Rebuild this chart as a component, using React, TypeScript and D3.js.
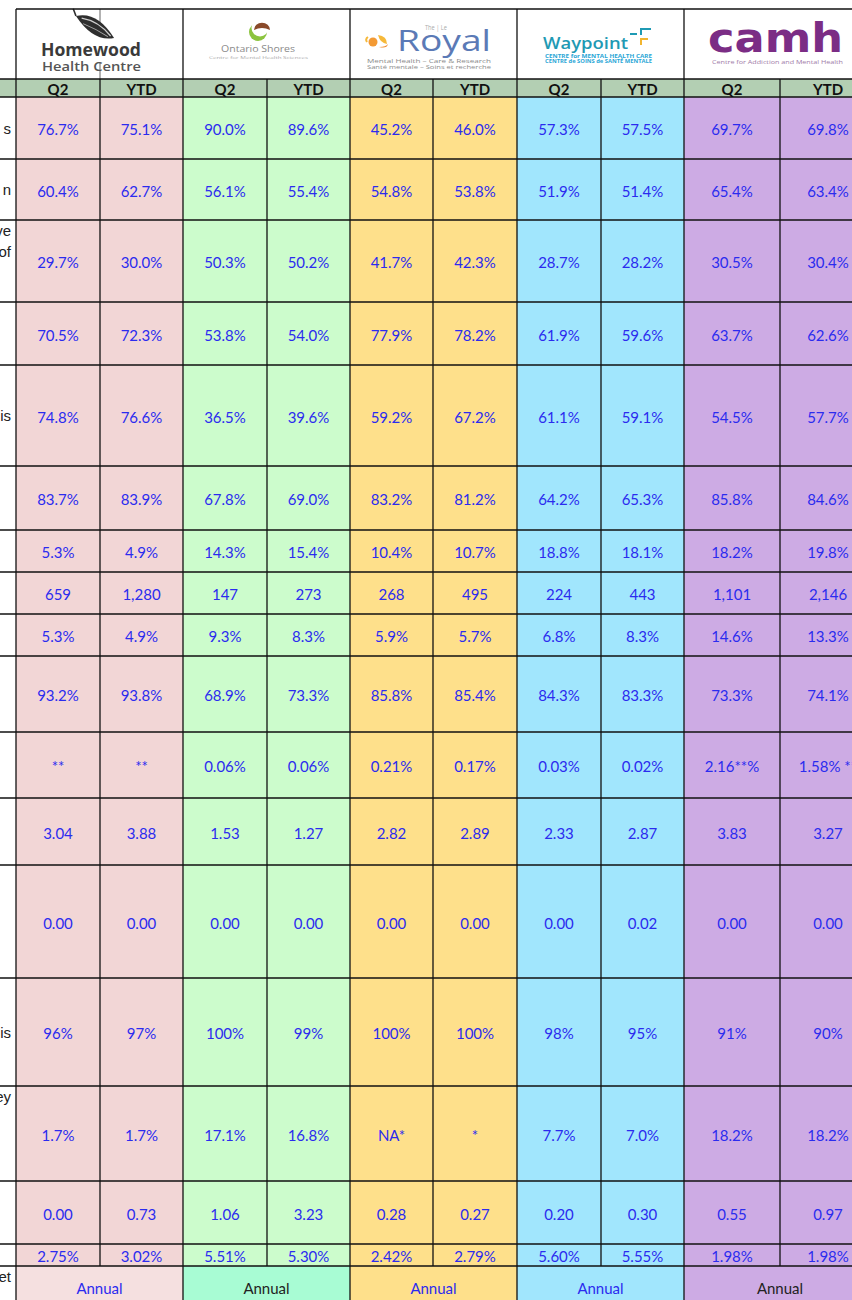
import React from "react";
import * as d3 from "d3";

// hospitals and sub columns
const hospitals = ["Homewood", "Ontario Shores", "The Royal", "Waypoint", "CAMH"];
const periods = ["Q2", "YTD"];

// values per column, one entry per indicator row (17 rows)
const homewoodQ2 = ["76.7%", "60.4%", "29.7%", "70.5%", "74.8%", "83.7%", "5.3%", "659", "5.3%", "93.2%", "**", "3.04", "0.00", "96%", "1.7%", "0.00", "2.75%"];
const homewoodYTD = ["75.1%", "62.7%", "30.0%", "72.3%", "76.6%", "83.9%", "4.9%", "1,280", "4.9%", "93.8%", "**", "3.88", "0.00", "97%", "1.7%", "0.73", "3.02%"];
const ontarioQ2 = ["90.0%", "56.1%", "50.3%", "53.8%", "36.5%", "67.8%", "14.3%", "147", "9.3%", "68.9%", "0.06%", "1.53", "0.00", "100%", "17.1%", "1.06", "5.51%"];
const ontarioYTD = ["89.6%", "55.4%", "50.2%", "54.0%", "39.6%", "69.0%", "15.4%", "273", "8.3%", "73.3%", "0.06%", "1.27", "0.00", "99%", "16.8%", "3.23", "5.30%"];
const royalQ2 = ["45.2%", "54.8%", "41.7%", "77.9%", "59.2%", "83.2%", "10.4%", "268", "5.9%", "85.8%", "0.21%", "2.82", "0.00", "100%", "NA*", "0.28", "2.42%"];
const royalYTD = ["46.0%", "53.8%", "42.3%", "78.2%", "67.2%", "81.2%", "10.7%", "495", "5.7%", "85.4%", "0.17%", "2.89", "0.00", "100%", "*", "0.27", "2.79%"];
const waypointQ2 = ["57.3%", "51.9%", "28.7%", "61.9%", "61.1%", "64.2%", "18.8%", "224", "6.8%", "84.3%", "0.03%", "2.33", "0.00", "98%", "7.7%", "0.20", "5.60%"];
const waypointYTD = ["57.5%", "51.4%", "28.2%", "59.6%", "59.1%", "65.3%", "18.1%", "443", "8.3%", "83.3%", "0.02%", "2.87", "0.02", "95%", "7.0%", "0.30", "5.55%"];
const camhQ2 = ["69.7%", "65.4%", "30.5%", "63.7%", "54.5%", "85.8%", "18.2%", "1,101", "14.6%", "73.3%", "2.16**%", "3.83", "0.00", "91%", "18.2%", "0.55", "1.98%"];
const camhYTD = ["69.8%", "63.4%", "30.4%", "62.6%", "57.7%", "84.6%", "19.8%", "2,146", "13.3%", "74.1%", "1.58% **", "3.27", "0.00", "90%", "18.2%", "0.97", "1.98%"];

const annualLabel = "Annual";

// visible right ends of the (cut off) indicator labels
const rowLabelTails = [["s"], ["n"], ["ve", "of"], [""], ["is"], [""], [""], [""], [""], [""], [""], [""], [""], ["is"], ["ey"], [""], [""]];
const annualLabelTail = ["et"];
const topAlignedRows = [2, 14];

// layout
const W = 852;
const H = 1300;
const left = 16;
const colWidths = [84, 83, 84, 83, 83, 84, 84, 83, 96, 96];
const logoTop = 9;
const logoH = 70;
const headH = 18;
const rowHeights = [62, 61, 82, 63, 101, 64, 42, 42, 42, 76, 66, 67, 113, 108, 95, 63, 22];
const annualH = 42;

const groupFill = ["#f2d6d6", "#ccfccc", "#fee08b", "#a1e6fd", "#cdabe4"];
const annualFill = ["#f5e0e0", "#a8fcd4", "#fee08b", "#a1e6fd", "#cdabe4"];
const annualColor = ["#2b2bef", "#222", "#2b2bef", "#2b2bef", "#222"];
const headFill = "#b3cfb3";
const blue = "#2b2bef";
const font = "Lato, 'Open Sans', sans-serif";
const logoFont = "'Open Sans', sans-serif";

const columns = [homewoodQ2, homewoodYTD, ontarioQ2, ontarioYTD, royalQ2, royalYTD, waypointQ2, waypointYTD, camhQ2, camhYTD];

const colEdges = [left, ...Array.from(d3.cumsum(colWidths), (d) => left + d)];
const headTop = logoTop + logoH;
const bodyTop = headTop + headH;
const rowEdges = [bodyTop, ...Array.from(d3.cumsum(rowHeights), (d) => bodyTop + d)];
const annualTop = rowEdges[rowEdges.length - 1];

const x = d3.scaleOrdinal<number, number>().domain(d3.range(colEdges.length)).range(colEdges);
const y = d3.scaleOrdinal<number, number>().domain(d3.range(rowEdges.length)).range(rowEdges);
const line = { stroke: "#111", strokeWidth: 1.3 };

function HomewoodLogo() {
  return (
    <g>
      <g transform="translate(95,27) rotate(30)">
        <path d="M-22,0 Q-6,-15 22,0 Q6,14 -22,0Z" fill="#2e2e2e" />
        <path d="M-16,-1 Q0,-7 18,0" stroke="#cfcfcf" strokeWidth={1.2} fill="none" />
        <path d="M-12,3 Q2,1 16,2" stroke="#aaa" strokeWidth={0.9} fill="none" />
        <path d="M-22,0 L-28,-5" stroke="#2e2e2e" strokeWidth={1.6} />
      </g>
      <text x={41} y={56} textLength={100} lengthAdjust="spacingAndGlyphs" fontFamily={logoFont} fontWeight={700} fontSize={17} fill="#3a3a3a">Homewood</text>
      <text x={42} y={71} textLength={99} lengthAdjust="spacingAndGlyphs" fontFamily={logoFont} fontWeight={600} fontSize={12.5} fill="#555">Health Centre</text>
    </g>
  );
}

function OntarioLogo() {
  return (
    <g>
      <circle cx={258} cy={32} r={9} fill="#8cc43f" />
      <circle cx={260} cy={28} r={8.5} fill="#fff" />
      <path d="M254,30 A6,5.5 0 0 1 270,30 Q262,26 254,30Z" fill="#8a4a2a" />
      <text x={221} y={52} textLength={74} lengthAdjust="spacingAndGlyphs" fontFamily={logoFont} fontSize={9.5} fill="#8a8a8a">Ontario Shores</text>
      <text x={209} y={58.5} textLength={99} lengthAdjust="spacingAndGlyphs" fontFamily={logoFont} fontSize={4.3} fill="#aaa">Centre for Mental Health Sciences</text>
    </g>
  );
}

function RoyalLogo() {
  return (
    <g>
      <text x={425} y={30} textLength={22} lengthAdjust="spacingAndGlyphs" fontFamily={logoFont} fontSize={6.5} fill="#aaa">The | Le</text>
      <circle cx={373} cy={42} r={4.5} fill="#f39a34" />
      <path d="M378,35 q9,1 9,9 q-7,-1 -9,-9Z" fill="#f6b93a" />
      <path d="M379,47 q7,0 9,-3 q-1,5 -9,3Z" fill="#f08a2c" />
      <path d="M368,37 q-3,2 -1,5" stroke="#f6b93a" strokeWidth={2} fill="none" />
      <text x={397} y={51} textLength={94} lengthAdjust="spacingAndGlyphs" fontFamily={logoFont} fontSize={30} fill="#5b7ab6">Royal</text>
      <text x={367} y={63} textLength={124} lengthAdjust="spacingAndGlyphs" fontFamily={logoFont} fontSize={4.8} fill="#8a8a8a">Mental Health – Care &amp; Research</text>
      <text x={367} y={69} textLength={124} lengthAdjust="spacingAndGlyphs" fontFamily={logoFont} fontSize={4.8} fill="#8a8a8a">Santé mentale – Soins et recherche</text>
    </g>
  );
}

function WaypointLogo() {
  return (
    <g>
      <text x={543} y={49} textLength={85} lengthAdjust="spacingAndGlyphs" fontFamily={logoFont} fontWeight={600} fontSize={16} fill="#1f9ab4">Waypoint</text>
      <rect x={630} y={33} width={7} height={2} fill="#1f9ab4" />
      <rect x={640} y={28} width={2} height={7} fill="#1f9ab4" />
      <rect x={642} y={28} width={9} height={2} fill="#1f9ab4" />
      <rect x={640} y={38} width={8} height={2} fill="#f2b52f" />
      <rect x={640} y={38} width={2} height={7} fill="#f2b52f" />
      <text x={545} y={58} textLength={107} lengthAdjust="spacingAndGlyphs" fontFamily={logoFont} fontWeight={700} fontSize={4.5} fill="#29a6d6">CENTRE for MENTAL HEALTH CARE</text>
      <text x={545} y={63} textLength={107} lengthAdjust="spacingAndGlyphs" fontFamily={logoFont} fontWeight={700} fontSize={4.5} fill="#29a6d6">CENTRE de SOINS de SANTÉ MENTALE</text>
    </g>
  );
}

function CamhLogo() {
  return (
    <g>
      <text x={708} y={52} textLength={135} lengthAdjust="spacingAndGlyphs" fontFamily="'DejaVu Sans', sans-serif" fontWeight={700} fontSize={40} fill="#7b2d85">camh</text>
      <text x={712} y={64} textLength={131} lengthAdjust="spacingAndGlyphs" fontFamily={logoFont} fontSize={5} fill="#a07aa8">Centre for Addiction and Mental Health</text>
    </g>
  );
}

export default function App() {
  const groupX0 = (g: number) => x(g * 2);
  const groupX1 = (g: number) => x(g * 2 + 2);
  const rowsAll = d3.range(rowHeights.length);

  return (
    <div style={{ position: "absolute", left: 0, top: 0, width: W, height: H, overflow: "hidden", background: "#fff" }}>
      <svg width={W} height={H} style={{ display: "block" }}>
        {/* group backgrounds */}
        {hospitals.map((h, g) => (
          <g key={h}>
            <rect x={groupX0(g)} y={bodyTop} width={groupX1(g) - groupX0(g)} height={annualTop - bodyTop} fill={groupFill[g]} />
            <rect x={groupX0(g)} y={annualTop} width={groupX1(g) - groupX0(g)} height={annualH} fill={annualFill[g]} />
          </g>
        ))}
        <rect x={0} y={headTop} width={W} height={headH} fill={headFill} />

        {/* logos */}
        <line x1={x(1)} x2={x(1)} y1={logoTop} y2={logoTop + 14} stroke="#666" strokeWidth={1} />
        <line x1={x(1)} x2={x(1)} y1={logoTop + 53} y2={headTop} stroke="#666" strokeWidth={1} />
        <HomewoodLogo />
        <OntarioLogo />
        <RoyalLogo />
        <WaypointLogo />
        <CamhLogo />

        {/* header text */}
        {columns.map((_, c) => (
          <text key={c} x={(x(c) + x(c + 1)) / 2} y={headTop + headH / 2 + 1} textAnchor="middle" dominantBaseline="central" fontFamily={font} fontWeight={700} fontSize={15} fill="#111">
            {periods[c % 2]}
          </text>
        ))}

        {/* cell values */}
        {columns.map((col, c) =>
          col.map((v, r) => (
            <text key={`${c}-${r}`} x={(x(c) + x(c + 1)) / 2} y={(y(r) + y(r + 1)) / 2 + 1} textAnchor="middle" dominantBaseline="central" fontFamily={font} fontSize={15} fill={blue}>
              {v}
            </text>
          ))
        )}

        {/* annual row */}
        {hospitals.map((h, g) => (
          <text key={h} x={(groupX0(g) + groupX1(g)) / 2} y={annualTop + annualH / 2 + 1} textAnchor="middle" dominantBaseline="central" fontFamily={font} fontSize={15} fill={annualColor[g]}>
            {annualLabel}
          </text>
        ))}

        {/* cut-off row label tails */}
        {rowLabelTails.map((lines, r) => {
          const top = topAlignedRows.includes(r);
          const y0 = top ? y(r) + 10 : (y(r) + y(r + 1)) / 2 - ((lines.length - 1) * 21) / 2;
          return lines.map((t, i) => (
            <text key={`${r}-${i}`} x={11} y={y0 + i * 21} textAnchor="end" dominantBaseline="central" fontFamily="'Liberation Sans', Arial, sans-serif" fontSize={15} fill="#222">
              {t}
            </text>
          ));
        })}
        {annualLabelTail.map((t, i) => (
          <text key={t} x={11} y={annualTop + 10 + i * 21} textAnchor="end" dominantBaseline="central" fontFamily="'Liberation Sans', Arial, sans-serif" fontSize={15} fill="#222">
            {t}
          </text>
        ))}

        {/* grid lines */}
        <line x1={left} x2={W} y1={logoTop} y2={logoTop} {...line} />
        {[headTop, bodyTop, ...rowsAll.map((r) => y(r + 1))].map((yy, i) => (
          <line key={i} x1={0} x2={W} y1={yy} y2={yy} {...line} />
        ))}
        {d3.range(hospitals.length).map((g) => (
          <line key={g} x1={groupX0(g)} x2={groupX0(g)} y1={logoTop} y2={H} {...line} />
        ))}
        {hospitals.map((h, g) => (
          <line key={h} x1={x(g * 2 + 1)} x2={x(g * 2 + 1)} y1={headTop} y2={annualTop} {...line} />
        ))}
      </svg>
    </div>
  );
}
